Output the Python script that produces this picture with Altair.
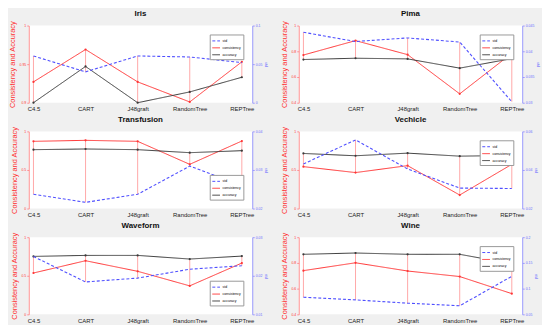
import json
import altair as alt
import pandas as pd

categories = ["C4.5", "CART", "J48graft", "RandomTree", "REPTree"]

iris_consistency = [0.927, 0.969, 0.927, 0.901, 0.953]
iris_accuracy = [0.900, 0.947, 0.900, 0.914, 0.933]
iris_std = [0.0606, 0.040, 0.0606, 0.0593, 0.052]

pima_consistency = [0.771, 0.883, 0.774, 0.469, 0.784]
pima_accuracy = [0.736, 0.746, 0.741, 0.669, 0.743]
pima_std = [0.0437, 0.0419, 0.0426, 0.0418, 0.0302]

transfusion_consistency = [0.871, 0.884, 0.871, 0.573, 0.875]
transfusion_accuracy = [0.763, 0.772, 0.763, 0.724, 0.750]
transfusion_std = [0.0237, 0.0216, 0.0237, 0.0310, 0.0260]

vechicle_consistency = [0.543, 0.466, 0.556, 0.175, 0.573]
vechicle_accuracy = [0.714, 0.684, 0.718, 0.679, 0.688]
vechicle_std = [0.0431, 0.0556, 0.0405, 0.0306, 0.0304]

waveform_consistency = [0.536, 0.695, 0.558, 0.369, 0.665]
waveform_accuracy = [0.751, 0.764, 0.764, 0.717, 0.755]
waveform_std = [0.0250, 0.0184, 0.0194, 0.0217, 0.0226]

wine_consistency = [0.740, 0.801, 0.737, 0.694, 0.561]
wine_accuracy = [0.867, 0.877, 0.867, 0.867, 0.793]
wine_std = [0.0832, 0.0781, 0.0717, 0.0666, 0.124]

iris_left_ticks = [0.9, 0.95, 1]
iris_right_ticks = [0, 0.05, 0.1]
pima_left_ticks = [0.4, 0.6, 0.8, 1]
pima_right_ticks = [0.03, 0.035, 0.04, 0.045]
transfusion_left_ticks = [0, 0.5, 1]
transfusion_right_ticks = [0.02, 0.03, 0.04]
vechicle_left_ticks = [0, 0.5, 1]
vechicle_right_ticks = [0.02, 0.04, 0.06]
waveform_left_ticks = [0, 0.5, 1]
waveform_right_ticks = [0.01, 0.02, 0.03]
wine_left_ticks = [0.4, 0.6, 0.8, 1]
wine_right_ticks = [0.05, 0.1, 0.15, 0.2]

series_names = ["std", "consistency", "accuracy"]
series_colors = ["#5050ff", "#ff3535", "#3a3a3a"]

RED = "#ff3030"
BLUE = "#6a6aff"
FONT = "Liberation Sans"

label_expr = json.dumps(categories) + "[datum.value - 1]"


def panel(name, cons, acc, std, lt, rt, legend_orient):
    lmin, lmax = lt[0], lt[-1]
    rmin, rmax = rt[0], rt[-1]
    idx = list(range(1, len(categories) + 1))
    left_rows = []
    for i, c, a in zip(idx, cons, acc):
        left_rows.append({"idx": i, "series": "consistency", "value": c})
        left_rows.append({"idx": i, "series": "accuracy", "value": a})
    left_df = pd.DataFrame(left_rows)
    std_df = pd.DataFrame({"idx": idx, "series": "std", "value": std})
    lo, hi = [], []
    for c, a, s in zip(cons, acc, std):
        s_left = lmin + (s - rmin) / (rmax - rmin) * (lmax - lmin)
        lo.append(min(c, a, s_left))
        hi.append(max(c, a, s_left))
    stem_df = pd.DataFrame({"idx": idx, "lo": lo, "hi": hi})

    x = alt.X(
        "idx:Q",
        scale=alt.Scale(domain=[0.91, 5.2], nice=False, zero=False),
        axis=alt.Axis(values=idx, labelExpr=label_expr, ticks=False, domain=False,
                      grid=False, title=None, labelFontSize=6, labelPadding=3,
                      labelColor="#222", labelFont=FONT),
    )
    left_axis = alt.Axis(values=lt, orient="left", title="Consistency and Accuracy",
                         titleColor=RED, titleFontSize=7.5, titleFontWeight="normal",
                         titleFont=FONT, labelColor=RED, labelFontSize=3.5, labelFont=FONT,
                         domainColor="#ff9090", tickColor="#ff9090", tickSize=2,
                         grid=False, titlePadding=3, labelPadding=1, format="~g")
    lscale = alt.Scale(domain=[lmin, lmax], nice=False, zero=False)
    rscale = alt.Scale(domain=[rmin, rmax], nice=False, zero=False)
    right_axis = alt.Axis(values=rt, orient="right", title="std", titleColor=BLUE,
                          titleFontSize=4, titleFontWeight="normal", titleFont=FONT,
                          labelColor=BLUE, labelFontSize=3.5, labelFont=FONT,
                          domainColor="#9a9aff", tickColor="#9a9aff", tickSize=2,
                          grid=False, titlePadding=2, labelPadding=1, format="~g")

    legend = alt.Legend(orient=legend_orient, title=None, labelFontSize=3.5,
                        labelFont=FONT, symbolSize=60, symbolType="stroke",
                        symbolStrokeWidth=1, fillColor="white", strokeColor="#999",
                        padding=2, rowPadding=0, offset=9, labelOffset=2)
    color = alt.Color("series:N", scale=alt.Scale(domain=series_names, range=series_colors),
                      legend=legend)
    dash = alt.StrokeDash("series:N",
                          scale=alt.Scale(domain=series_names, range=[[3, 2], [1, 0], [1, 0]]),
                          legend=legend)

    stems = alt.Chart(stem_df).mark_rule(color="#ffa8a8", strokeWidth=1).encode(
        x=x, y=alt.Y("lo:Q", scale=lscale, axis=left_axis), y2="hi:Q")
    lines = alt.Chart(left_df).mark_line(strokeWidth=1).encode(
        x=x, y=alt.Y("value:Q", scale=lscale, axis=left_axis), color=color, strokeDash=dash)
    pts = alt.Chart(left_df).mark_point(filled=True, size=5, opacity=1).encode(
        x=x, y=alt.Y("value:Q", scale=lscale, axis=left_axis), color=color)
    stdline = alt.Chart(std_df).mark_line(strokeWidth=1.1).encode(
        x=x, y=alt.Y("value:Q", scale=rscale, axis=right_axis), color=color, strokeDash=dash)

    return alt.layer(alt.layer(stems, lines, pts), stdline).resolve_scale(
        y="independent").properties(
        width=226, height=78,
        title=alt.Title(name, fontSize=8, fontWeight="bold", font=FONT, offset=2, color="#111"))


charts = [
    panel("Iris", iris_consistency, iris_accuracy, iris_std, iris_left_ticks, iris_right_ticks, "top-right"),
    panel("Pima", pima_consistency, pima_accuracy, pima_std, pima_left_ticks, pima_right_ticks, "top-right"),
    panel("Transfusion", transfusion_consistency, transfusion_accuracy, transfusion_std,
          transfusion_left_ticks, transfusion_right_ticks, "bottom-right"),
    panel("Vechicle", vechicle_consistency, vechicle_accuracy, vechicle_std,
          vechicle_left_ticks, vechicle_right_ticks, "top-right"),
    panel("Waveform", waveform_consistency, waveform_accuracy, waveform_std,
          waveform_left_ticks, waveform_right_ticks, "bottom-right"),
    panel("Wine", wine_consistency, wine_accuracy, wine_std, wine_left_ticks, wine_right_ticks, "top-right"),
]

chart = alt.concat(*charts, columns=2, spacing={"row": 29, "column": 47}, bounds="flush").resolve_scale(
    color="independent", strokeDash="independent").resolve_legend(
    color="independent", strokeDash="independent").properties(
    background="#f0f0f0", padding={"left": 0, "top": 0, "right": 2, "bottom": 0}).configure_view(
    fill="white", stroke=None)

chart.save("out.html", embed_options={"renderer": "svg", "actions": False})
